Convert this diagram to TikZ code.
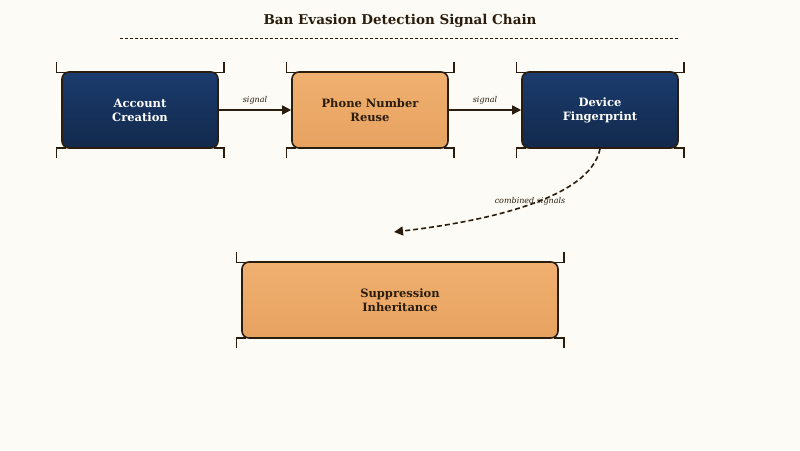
\documentclass[tikz,border=0pt]{standalone}
\usepackage{fontspec}
\setmainfont{DejaVu Serif}
\usetikzlibrary{arrows.meta,calc}
\definecolor{bg}{HTML}{FDFBF6}
\definecolor{ink}{HTML}{2A1D0E}
\definecolor{navyT}{HTML}{1B3C6E}
\definecolor{navyB}{HTML}{12294B}
\definecolor{orT}{HTML}{F0B070}
\definecolor{orB}{HTML}{E7A260}
\tikzset{
 box/.style={draw=ink,line width=1.6pt,rounded corners=7pt,minimum width=156pt,minimum height=76pt,align=center,font=\bfseries\fontsize{11.5}{14}\selectfont,inner sep=0pt},
 navy/.style={box,top color=navyT,bottom color=navyB,text=white},
 orng/.style={box,top color=orT,bottom color=orB,text=ink},
 arr/.style={draw=ink,line width=1.6pt,-{Triangle[length=9pt,width=9pt]}},
 lab/.style={font=\itshape\fontsize{8}{10}\selectfont,text=ink},
 brk/.style={draw=ink,line width=1.4pt}
}
\newcommand{\brackets}[1]{%
 \draw[brk] ($(#1.north west)+(-5,-9)$)--++(0,10)--++(10,0);
 \draw[brk] ($(#1.north east)+(5,-9)$)--++(0,10)--++(-10,0);
 \draw[brk] ($(#1.south west)+(-5,9)$)--++(0,-10)--++(10,0);
 \draw[brk] ($(#1.south east)+(5,9)$)--++(0,-10)--++(-10,0);}
\begin{document}
\begin{tikzpicture}[x=1pt,y=-1pt]
\useasboundingbox[fill=bg] (0,0) rectangle (800,450);
\node[font=\bfseries\fontsize{13.5}{16}\selectfont,text=ink] (title) at (400,21) {Ban Evasion Detection Signal Chain};
\coordinate (dl) at (120,38); \coordinate (dr) at (678,38);
\draw[ink,line width=1pt,dash pattern=on 3pt off 2pt] (dl)--(dr);
\node[navy] (a) at (140,110) {Account\\Creation};
\node[orng] (p) at (370,110) {Phone Number\\Reuse};
\node[navy] (d) at (600,110) {Device\\Fingerprint};
\node[orng,minimum width=316pt] (s) at (400,300) {Suppression\\Inheritance};
\brackets{a}\brackets{p}\brackets{d}\brackets{s}
\draw[arr] (a) -- node[lab,above=2pt]{signal} (p);
\draw[arr] (p) -- node[lab,above=2pt]{signal} (d);
\coordinate (t) at (394,232);
\draw[arr,dash pattern=on 5pt off 3pt] (d.south) .. controls (590,200) and (480,222) .. (t);
\node[lab] (cs) at (530,201) {combined signals};
\end{tikzpicture}
\end{document}
